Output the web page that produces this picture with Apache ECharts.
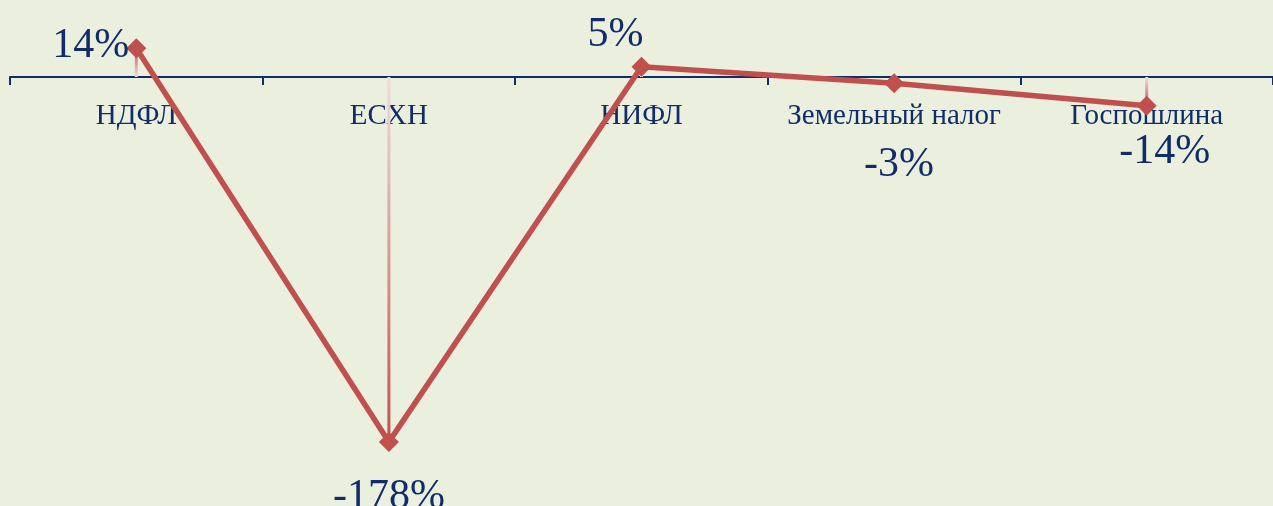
<!DOCTYPE html>
<html>
<head>
<meta charset="utf-8">
<script src="https://cdn.jsdelivr.net/npm/echarts@6/dist/echarts.min.js"></script>
<style>
  html, body { margin: 0; padding: 0; background: #EBEFDE; }
  #main { width: 1273px; height: 506px; }
</style>
</head>
<body>
<div id="main"></div>
<script>
var categories = ['НДФЛ', 'ЕСХН', 'НИФЛ', 'Земельный налог', 'Госпошлина'];
var values = [14, -178, 5, -3, -14];
// label placement for each point, roughly as on the slide
var labelPos = ['left', 'bottom', 'top', 'bottom', 'bottom'];
var labelOffset = [[8, -2], [0, 19], [-26, 4], [5, 46], [18, 10]];

var navy = '#102D6A';
var red = '#C0504D';
var font = 'Liberation Serif';

var chart = echarts.init(document.getElementById('main'));

var lineData = values.map(function (v, i) {
  return {
    value: v,
    label: { position: labelPos[i], offset: labelOffset[i] }
  };
});

// drop lines: light near the axis, red near the point
var dropData = values.map(function (v) {
  var stops = v >= 0
    ? [{ offset: 0, color: red }, { offset: 1, color: '#F6DADA' }]
    : [{ offset: 0, color: '#F6DADA' }, { offset: 1, color: red }];
  return {
    value: v,
    itemStyle: { color: new echarts.graphic.LinearGradient(0, 0, 0, 1, stops) }
  };
});

var option = {
  backgroundColor: '#EBEFDE',
  animation: false,
  grid: { left: 10, right: 0, top: 36, bottom: 60 },
  xAxis: {
    type: 'category',
    data: categories,
    boundaryGap: true,
    position: 'bottom',
    offset: -369, // sits on the zero line
    axisLine: { onZero: false, lineStyle: { color: navy, width: 2 } },
    axisTick: { show: true, interval: 0, length: 8, lineStyle: { color: navy, width: 2 } },
    axisLabel: { interval: 0, color: navy, fontFamily: font, fontSize: 29, margin: 25 },
    z: 1
  },
  yAxis: {
    type: 'value',
    min: -180,
    max: 20,
    show: false,
    splitLine: { show: false }
  },
  series: [
    {
      type: 'bar',
      data: dropData,
      barWidth: 3,
      z: 2,
      silent: true
    },
    {
      type: 'line',
      data: lineData,
      z: 3,
      symbol: 'diamond',
      symbolSize: 20,
      lineStyle: { color: red, width: 5.5 },
      itemStyle: { color: red },
      label: {
        show: true,
        color: navy,
        fontFamily: font,
        fontSize: 42,
        formatter: '{c}%'
      }
    }
  ]
};

chart.setOption(option);
</script>
</body>
</html>
